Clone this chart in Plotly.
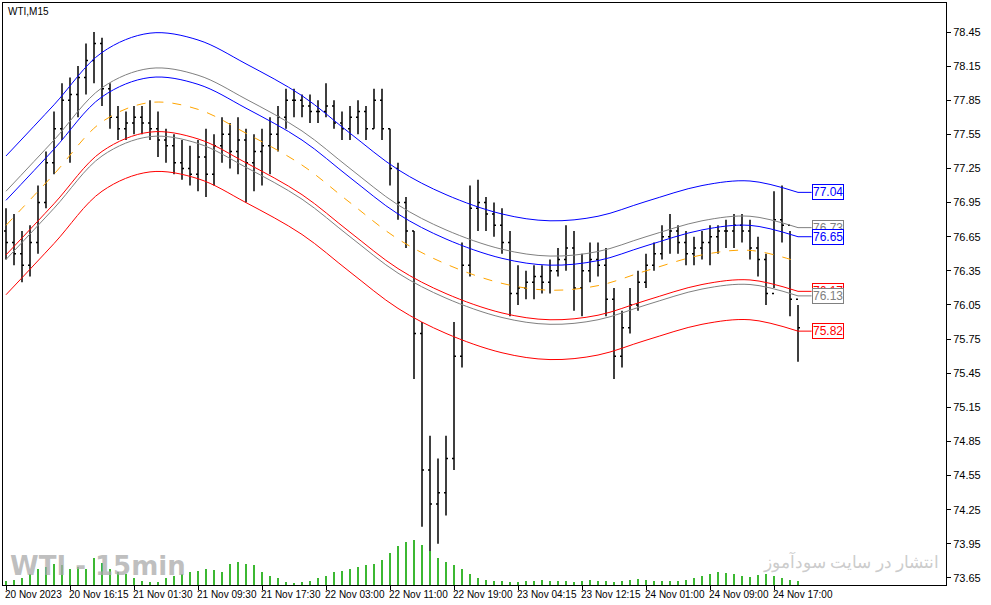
import plotly.graph_objects as go

# Price bars (one bar every 8 px in the original screenshot)
high = [76.9, 76.85, 76.7, 76.75, 77.1, 77.4, 77.75, 78.0, 78.05, 78.15,
        78.35, 78.45, 78.4, 78.0, 77.8, 77.75, 77.8, 77.8, 77.85, 77.75,
        77.6, 77.55, 77.5, 77.45, 77.5, 77.6, 77.55, 77.7, 77.65, 77.7,
        77.6, 77.55, 77.6, 77.7, 77.8, 77.95, 77.95, 77.9, 77.9, 77.85,
        78.0, 77.85, 77.75, 77.8, 77.85, 77.8, 77.95, 77.95, 77.6, 77.3,
        77.0, 76.7, 75.9, 74.9, 74.7, 74.9, 75.9, 76.6, 77.1, 77.15,
        77.0, 76.95, 76.9, 76.7, 76.4, 76.35, 76.4, 76.4, 76.45, 76.55,
        76.75, 76.7, 76.5, 76.6, 76.6, 76.55, 76.2, 76.0, 76.2, 76.35,
        76.5, 76.6, 76.75, 76.85, 76.75, 76.7, 76.65, 76.7, 76.75, 76.75,
        76.8, 76.85, 76.85, 76.8, 76.65, 76.5, 77.05, 77.1, 76.7, 76.05]
low = [76.45, 76.4, 76.25, 76.3, 76.5, 76.9, 77.2, 77.5, 77.3, 77.7,
       77.9, 78.0, 77.8, 77.6, 77.5, 77.5, 77.55, 77.55, 77.5, 77.35,
       77.3, 77.2, 77.15, 77.1, 77.05, 77.0, 77.1, 77.3, 77.25, 77.2,
       76.95, 77.05, 77.1, 77.2, 77.4, 77.6, 77.7, 77.7, 77.65, 77.65,
       77.7, 77.6, 77.5, 77.5, 77.55, 77.5, 77.6, 77.5, 77.1, 76.8,
       76.55, 75.4, 74.1, 73.85, 73.95, 74.2, 74.6, 75.5, 76.3, 76.7,
       76.7, 76.65, 76.5, 75.95, 76.05, 76.1, 76.1, 76.15, 76.15, 76.3,
       76.35, 76.0, 75.95, 76.25, 76.3, 75.95, 75.4, 75.5, 75.8, 76.0,
       76.2, 76.35, 76.45, 76.5, 76.5, 76.4, 76.4, 76.45, 76.4, 76.5,
       76.55, 76.55, 76.6, 76.45, 76.3, 76.05, 76.2, 76.6, 75.95, 75.55]
close = [76.6, 76.5, 76.4, 76.6, 76.95, 77.3, 77.6, 77.85, 77.9, 78.05,
         78.2, 78.35, 77.95, 77.7, 77.6, 77.65, 77.7, 77.65, 77.6, 77.5,
         77.45, 77.3, 77.25, 77.2, 77.35, 77.2, 77.45, 77.55, 77.4, 77.5,
         77.3, 77.4, 77.45, 77.55, 77.7, 77.85, 77.85, 77.8, 77.75, 77.75,
         77.8, 77.65, 77.6, 77.7, 77.75, 77.6, 77.85, 77.6, 77.25, 76.95,
         76.7, 75.8, 74.6, 74.3, 74.4, 74.7, 75.6, 76.4, 76.9, 76.95,
         76.85, 76.75, 76.6, 76.15, 76.2, 76.25, 76.3, 76.25, 76.35, 76.45,
         76.55, 76.2, 76.35, 76.45, 76.4, 76.1, 75.6, 75.85, 76.05, 76.25,
         76.4, 76.5, 76.65, 76.7, 76.6, 76.5, 76.55, 76.6, 76.65, 76.7,
         76.7, 76.75, 76.7, 76.55, 76.45, 76.15, 76.8, 76.75, 76.1, 75.85]
open_ = [76.7] + close[:-1]

volume = [5, 6, 8, 12, 18, 20, 24, 22, 18, 20, 18, 30, 25, 18, 14, 12, 8, 4, 3, 3,
          8, 10, 12, 15, 16, 18, 17, 14, 24, 26, 24, 22, 14, 10, 8, 3, 2, 3, 5, 8,
          10, 14, 16, 18, 20, 22, 24, 28, 36, 44, 48, 50, 45, 38, 30, 26, 22, 18, 12, 8,
          6, 5, 4, 3, 3, 4, 5, 6, 5, 4, 4, 3, 5, 6, 5, 4, 3, 4, 6, 7,
          6, 5, 4, 4, 5, 6, 8, 10, 12, 14, 13, 12, 10, 9, 11, 12, 10, 8, 6, 5]

# Regression channel centre line (control points, bar index -> price)
centre_x = [0, 6, 12, 18, 24, 30, 37, 43, 49, 55, 62, 68, 74, 80, 87, 93, 99]
centre_y = [76.75, 77.2, 77.66, 77.83, 77.77, 77.56, 77.28, 76.95, 76.63, 76.41,
            76.24, 76.18, 76.22, 76.35, 76.49, 76.53, 76.43]

band_offsets = [0.61, 0.30, 0.22, -0.26, -0.30, -0.61]
band_colors = ["#0000ff", "#808080", "#0000ff", "#ff0000", "#808080", "#ff0000"]
band_labels = ["77.04", "76.73", "76.65", "76.17", "76.13", "75.82"]

tick_idx = [0, 8, 16, 24, 32, 40, 48, 56, 64, 72, 80, 88, 96]
tick_text = ["20 Nov 2023", "20 Nov 16:15", "21 Nov 01:30", "21 Nov 09:30",
             "21 Nov 17:30", "22 Nov 03:00", "22 Nov 11:00", "22 Nov 19:00",
             "23 Nov 04:15", "23 Nov 12:15", "24 Nov 01:00", "24 Nov 09:00",
             "24 Nov 17:00"]
price_ticks = [round(73.65 + 0.3 * k, 2) for k in range(17)]

FONT = "Liberation Sans, Arial"
x = list(range(len(close)))

fig = go.Figure()
fig.add_trace(go.Bar(x=x, y=volume, yaxis="y2", marker_color="#3cb832",
                     marker_line_width=0, width=0.3, hoverinfo="skip"))

fig.add_trace(go.Scatter(x=centre_x, y=centre_y, mode="lines",
                         line=dict(color="#ffa500", width=1, dash="dash", shape="spline")))
for off, col in zip(band_offsets, band_colors):
    fig.add_trace(go.Scatter(x=centre_x, y=[c + off for c in centre_y], mode="lines",
                             line=dict(color=col, width=1, shape="spline")))

fig.add_trace(go.Ohlc(x=x, open=open_, high=high, low=low, close=close,
                      increasing_line_color="black", decreasing_line_color="black",
                      line_width=1.5, tickwidth=0.25))

last_x = centre_x[-1]
for off, col, lab in zip(band_offsets, band_colors, band_labels):
    fig.add_annotation(x=last_x + 1.7, y=float(lab), text=lab, showarrow=False,
                       xanchor="left", font=dict(family=FONT, size=12, color=col),
                       bordercolor=col, borderwidth=1, borderpad=0, bgcolor="white")
    fig.add_shape(type="line", x0=last_x, x1=last_x + 1.7, y0=centre_y[-1] + off,
                  y1=float(lab), line=dict(color=col, width=1))

for t, s in zip(tick_idx, tick_text):
    fig.add_annotation(x=t, y=0, yref="paper", yanchor="top", xanchor="left",
                       text=s, showarrow=False, yshift=-2, xshift=-3,
                       font=dict(family=FONT, size=10, color="black"))

fig.add_annotation(x=0, y=1, xref="paper", yref="paper", xanchor="left", yanchor="top",
                   text="WTI,M15", showarrow=False, xshift=3, yshift=-1,
                   font=dict(family=FONT, size=10, color="black"))
fig.add_annotation(x=0, y=0, xref="paper", yref="paper", xanchor="left", yanchor="bottom",
                   text="<b>WTI - 15min</b>", showarrow=False, xshift=5, yshift=2,
                   font=dict(family="DejaVu Sans", size=26, color="rgba(170,170,170,0.75)"))
fig.add_annotation(x=0.995, y=0, xref="paper", yref="paper", xanchor="right", yanchor="bottom",
                   text="انتشار در سایت سودآموز", showarrow=False, yshift=10,
                   font=dict(family="Noto Sans", size=17, color="rgba(190,190,190,0.8)"))

fig.update_layout(
    width=991, height=605,
    margin=dict(l=3, r=45, t=3, b=20),
    paper_bgcolor="white", plot_bgcolor="white",
    showlegend=False,
    xaxis=dict(range=[-0.375, 117.5], tickmode="array", tickvals=tick_idx,
               showticklabels=False, automargin=False,
               ticks="outside", ticklen=4, tickcolor="black", showgrid=False,
               showline=True, linecolor="black", mirror=True, zeroline=False,
               rangeslider=dict(visible=False)),
    yaxis=dict(range=[73.588, 78.705], side="right", tickmode="array", tickvals=price_ticks,
               tickformat=".2f", automargin=False, ticks="outside", ticklen=4,
               tickcolor="black", showgrid=False, showline=True, linecolor="black",
               mirror=True, zeroline=False,
               tickfont=dict(family=FONT, size=11, color="black")),
    yaxis2=dict(range=[0, 650], overlaying="y", visible=False),
    bargap=0,
)

# the page body has a default 8px margin; drop it so the figure fills the window
fig.write_html("out.html", config={"displayModeBar": False},
               post_script="document.body.style.margin='0';")
